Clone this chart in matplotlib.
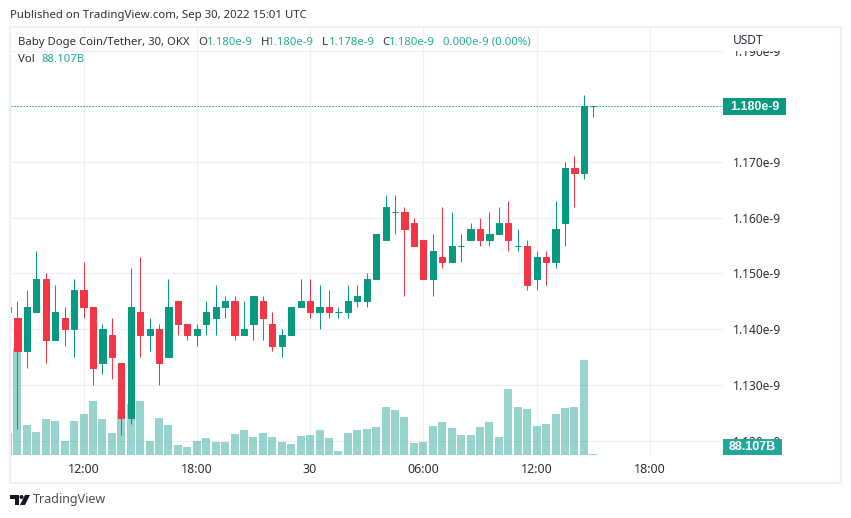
import matplotlib
matplotlib.use("Agg")
import matplotlib.pyplot as plt
from matplotlib.patches import Rectangle, Circle, Polygon
import numpy as np

plt.rcParams['font.family'] = ['Noto Sans', 'DejaVu Sans']

# 30 minute candles, prices in units of 1e-12, first bar is index -1
opens = [1144, 1142, 1136, 1143, 1149, 1138, 1142, 1140, 1147, 1144, 1134, 1139, 1134, 1124, 1143, 1139,
         1140, 1135, 1145, 1141, 1139, 1141, 1142, 1144, 1145, 1139, 1141, 1145, 1141, 1137, 1139, 1144,
         1145, 1143, 1144, 1143, 1143, 1145, 1145, 1149, 1156, 1161, 1161, 1159, 1156, 1149, 1153, 1152,
         1155, 1156, 1158, 1156, 1157, 1159, 1155, 1155, 1149, 1153, 1152, 1159, 1169, 1168, 1180]
highs = [1144, 1145, 1147, 1154, 1150, 1148, 1144, 1149, 1152, 1144, 1141, 1142, 1134, 1151, 1153, 1142,
         1141, 1149, 1145, 1141, 1141, 1145, 1148, 1146, 1146, 1145, 1146, 1146, 1143, 1140, 1144, 1149,
         1149, 1148, 1147, 1144, 1148, 1148, 1150, 1157, 1164, 1164, 1162, 1160, 1156, 1157, 1162, 1161,
         1157, 1159, 1160, 1161, 1162, 1163, 1158, 1156, 1154, 1154, 1163, 1170, 1171, 1182, 1180]
lows = [1143, 1122, 1133, 1143, 1134, 1138, 1137, 1135, 1142, 1130, 1132, 1131, 1121, 1123, 1135, 1136,
        1130, 1135, 1139, 1138, 1137, 1139, 1139, 1142, 1138, 1139, 1138, 1138, 1136, 1135, 1139, 1144,
        1142, 1140, 1142, 1142, 1142, 1144, 1144, 1149, 1156, 1157, 1146, 1155, 1149, 1146, 1151, 1152,
        1152, 1156, 1155, 1155, 1157, 1154, 1154, 1147, 1147, 1148, 1151, 1155, 1162, 1167, 1178]
closes = [1143, 1136, 1144, 1149, 1138, 1143, 1140, 1147, 1144, 1133, 1140, 1135, 1124, 1144, 1139, 1140,
          1134, 1144, 1141, 1139, 1140, 1143, 1144, 1145, 1139, 1140, 1146, 1142, 1137, 1139, 1144, 1145,
          1143, 1144, 1143, 1143, 1145, 1146, 1149, 1157, 1162, 1161, 1158, 1155, 1149, 1154, 1152, 1155,
          1155, 1158, 1156, 1157, 1159, 1156, 1155, 1148, 1153, 1152, 1158, 1169, 1168, 1180, 1180]
# volume in billions
volumes = [1938, 9428, 2643, 2027, 3172, 2996, 1234, 2996, 3613, 4758, 3172, 1938, 3965, 4494, 4758, 1234,
           3260, 2643, 881, 705, 1234, 1498, 1145, 1145, 1850, 2203, 1586, 1938, 1586, 1145, 969, 1674,
           1762, 2203, 1498, 352, 1938, 2203, 2291, 2467, 4229, 3965, 3348, 1057, 1145, 2555, 2908, 2379,
           1762, 1762, 2467, 2908, 1586, 5815, 4229, 4053, 2555, 2731, 3613, 4141, 4229, 8370, 88.107]

price_ticks = [1120, 1130, 1140, 1150, 1160, 1170, 1190]
time_ticks = [7, 19, 31, 43, 55, 67]
time_labels = ['12:00', '18:00', '30', '06:00', '12:00', '18:00']
last_price = '1.180e-9'
last_vol = '88.107B'

W, H = 851, 518
GREEN = '#089981'
RED = '#F23645'
TEAL = '#22ab94'
VOL = '#26a69a'
GRID = '#eef0f6'
TEXT = '#2a2e39'

fig = plt.figure(figsize=(W / 100, H / 100), dpi=100, facecolor='white')
x = np.arange(len(opens)) - 1
px = 0.72  # one pixel in points
bar_step = 9.44

# plot area in pixels
left, right, top, bottom = 11, 723, 28, 455
rect = [left / W, 1 - bottom / H, (right - left) / W, (bottom - top) / H]
xlim = (-1 + (left - 8.0) / bar_step, -1 + (right - 8.0) / bar_step)
ylim = (1180 - (bottom - 106.3) / 5.57, 1180 + (106.3 - top) / 5.57)


def price_label(p):
    return f"{p / 1000:.3f}e-9"


# grid and axis labels at the back
ax = fig.add_axes(rect, zorder=1)
ax.set_xlim(xlim)
ax.set_ylim(ylim)
ax.set_xticks(time_ticks)
ax.set_xticklabels(time_labels, fontsize=9, color=TEXT)
ax.set_yticks(price_ticks)
ax.set_yticklabels([price_label(p) for p in price_ticks], fontsize=8.6, color=TEXT)
ax.yaxis.tick_right()
ax.tick_params(axis='both', length=0)
ax.tick_params(axis='x', pad=5.5)
ax.tick_params(axis='y', pad=7)
ax.grid(True, color=GRID, lw=px * 1.2)
ax.set_axisbelow(True)
for s in ax.spines.values():
    s.set_visible(False)

# volume bars
ax_vol = fig.add_axes(rect, zorder=2)
ax_vol.patch.set_visible(False)
ax_vol.axis('off')
ax_vol.set_xlim(xlim)
ax_vol.set_ylim(0, (bottom - top) * 88.107)
ax_vol.bar(x, volumes, width=0.85, color=VOL, alpha=0.48, linewidth=0)

# candles
ax_c = fig.add_axes(rect, zorder=3)
ax_c.patch.set_visible(False)
ax_c.axis('off')
ax_c.set_xlim(xlim)
ax_c.set_ylim(ylim)
colors = [GREEN if c >= o else RED for o, c in zip(opens, closes)]
ax_c.vlines(x, lows, highs, colors=colors, lw=px)
ax_c.bar(x, np.abs(np.array(closes) - np.array(opens)), bottom=np.minimum(opens, closes),
         width=6.2 / bar_step, color=colors, edgecolor=colors, linewidth=px)
ax_c.axhline(closes[-1], color=GREEN, lw=px, ls=(0, (1.3, 1.7)), zorder=1)

# frame, scale badges, legend and logo drawn in pixel coordinates
ov = fig.add_axes([0, 0, 1, 1], zorder=5)
ov.patch.set_visible(False)
ov.axis('off')
ov.set_xlim(0, W)
ov.set_ylim(H, 0)

ov.add_patch(Rectangle((724, 28), 116, 22.5, color='white', lw=0))
ov.add_patch(Rectangle((10, 27), 831, 456, fill=False, ec=GRID, lw=1.6))
ov.add_patch(Rectangle((723, 98), 63, 17, color=GREEN, lw=0))
ov.add_patch(Rectangle((723, 439), 59, 16, color=VOL, lw=0))
ov.text(754.5, 106.5, last_price, color='white', fontsize=9, fontweight='bold', family='Liberation Sans',
        ha='center', va='center')
ov.text(752.5, 447, last_vol, color='white', fontsize=9, fontweight='bold', family='Liberation Sans',
        ha='center', va='center')
ov.text(733, 41, 'USDT', color=TEXT, fontsize=8.6, va='center')

ov.text(10, 15.5, 'Published on TradingView.com, Sep 30, 2022 15:01 UTC', color=TEXT, fontsize=8.2, va='center')
ov.text(18, 42.5, 'Baby Doge Coin/Tether, 30, OKX', color=TEXT, fontsize=8.15, va='center')
for lab, lx, val, vx in [('O', 198, '1.180e-9', 207), ('H', 261, '1.180e-9', 268),
                         ('L', 322, '1.178e-9', 329), ('C', 382, '1.180e-9', 389)]:
    ov.text(lx, 42.5, lab, color=TEXT, fontsize=8.2, va='center')
    ov.text(vx, 42.5, val, color=TEAL, fontsize=8.2, va='center')
ov.text(443, 42.5, '0.000e-9 (0.00%)', color=TEAL, fontsize=8.2, va='center')
ov.text(18, 59.5, 'Vol', color=TEXT, fontsize=8.2, va='center')
ov.text(42, 59.5, last_vol, color=TEAL, fontsize=8.2, va='center')

# TradingView mark
LOGO = '#131722'
ov.add_patch(Rectangle((10, 495), 9, 4, color=LOGO, lw=0))
ov.add_patch(Rectangle((15, 495), 4, 10, color=LOGO, lw=0))
ov.add_patch(Circle((21.5, 497), 2, color=LOGO, lw=0))
ov.add_patch(Polygon([(25, 495), (30, 495), (25, 505), (20, 505)], color=LOGO, lw=0))
ov.text(33, 500, 'TradingView', color='#4a4e58', fontsize=9, va='center')

fig.savefig('out.png', dpi=100)
